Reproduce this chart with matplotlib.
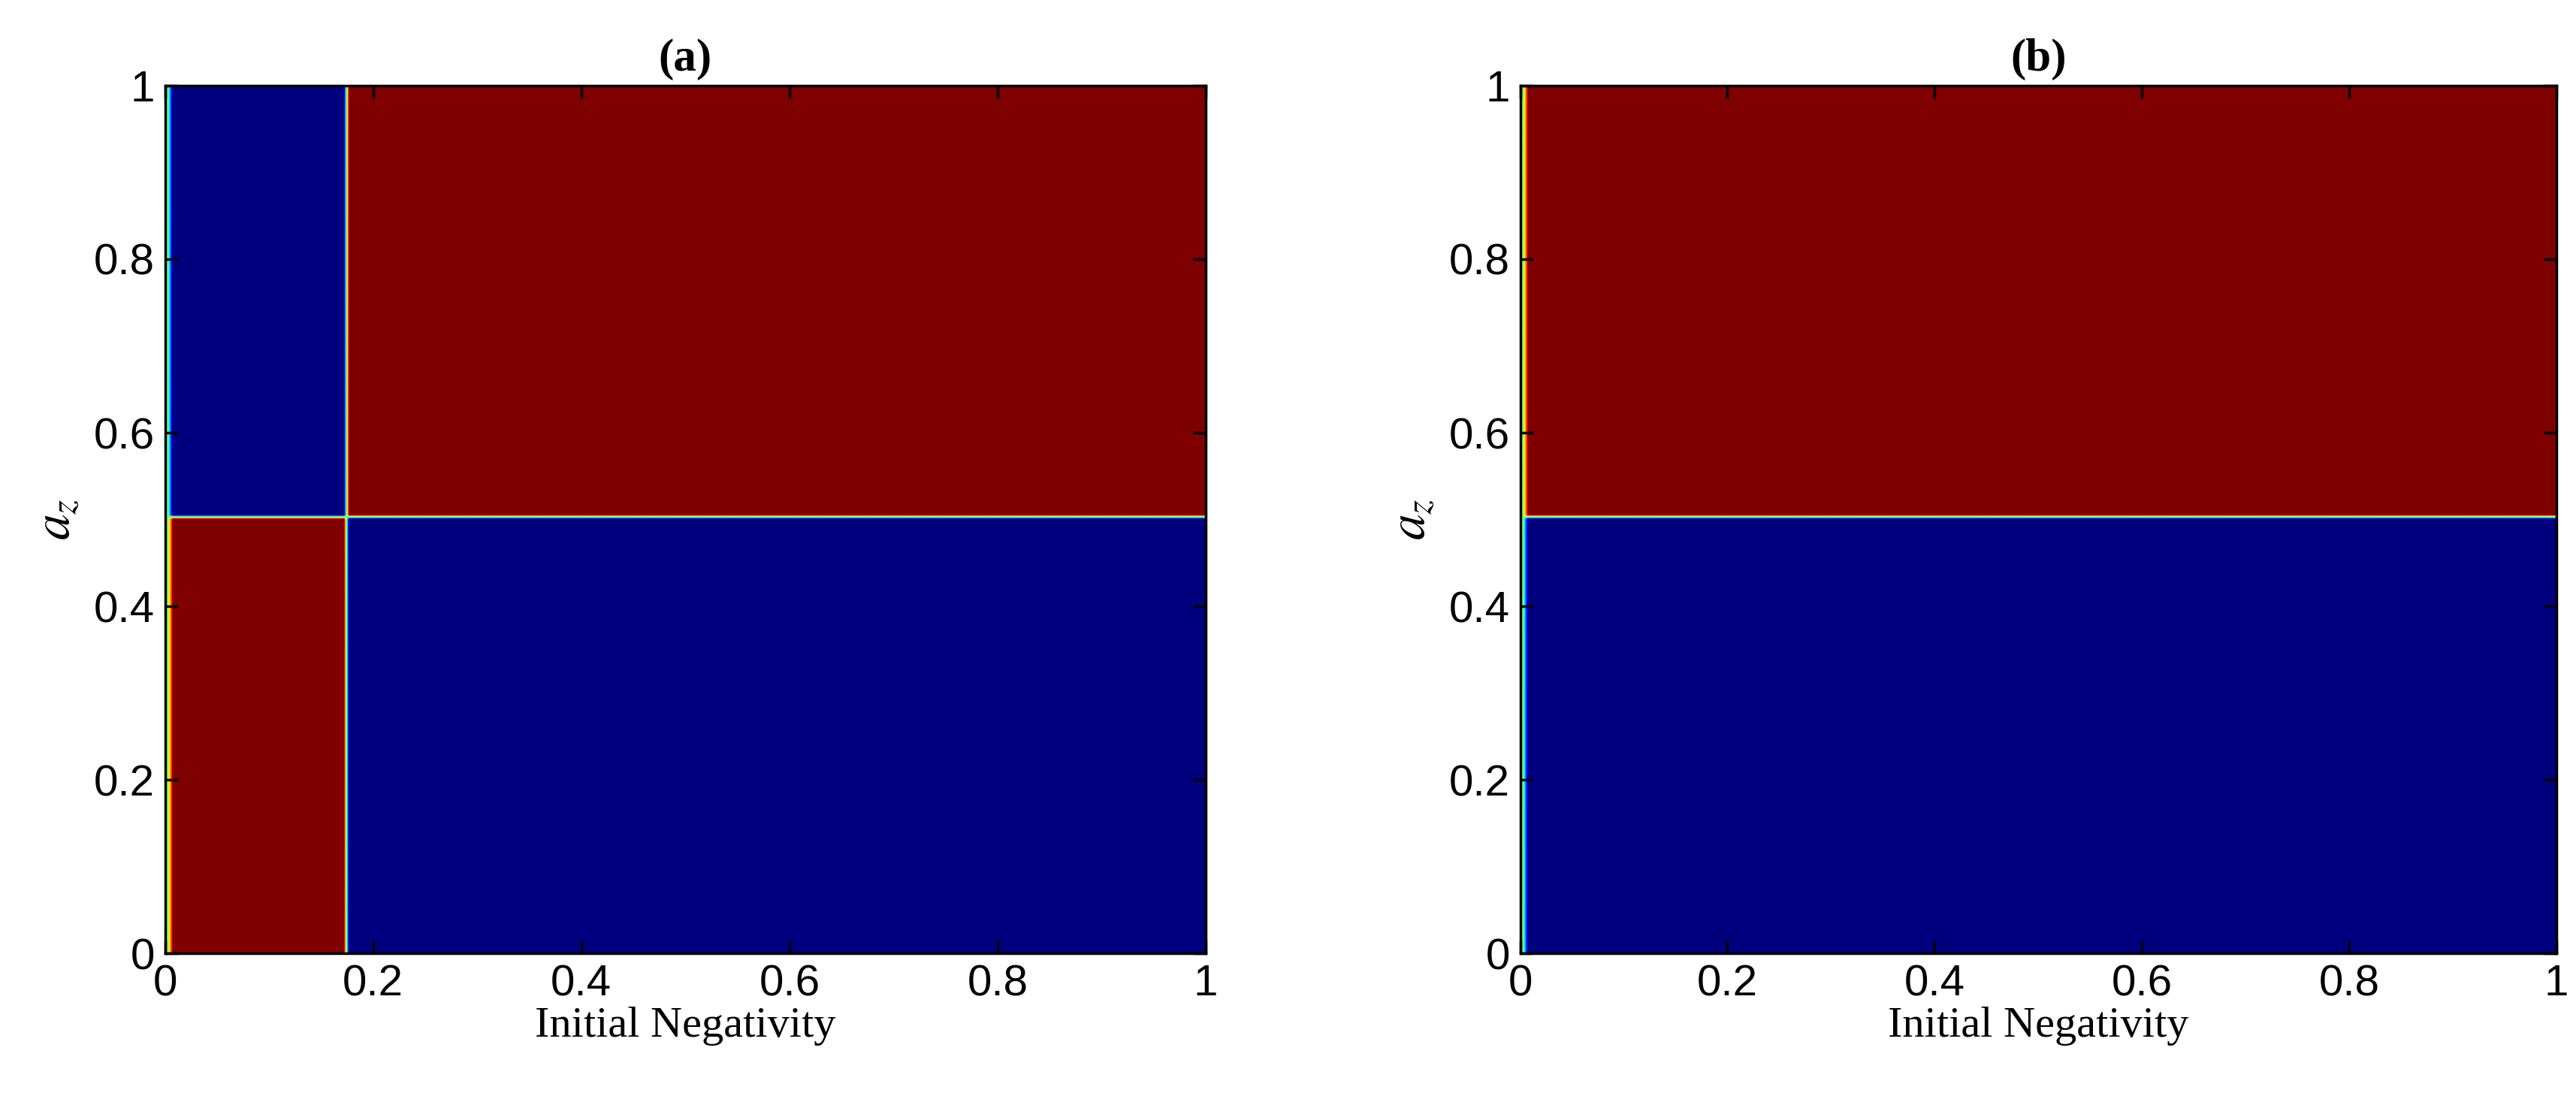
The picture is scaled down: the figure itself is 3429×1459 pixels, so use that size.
import numpy as np
import matplotlib.pyplot as plt
from matplotlib.ticker import FuncFormatter

plt.rcParams['mathtext.fontset'] = 'stix'

# grid of the parameter sweep
n_grid = 201
neg = np.linspace(0, 1, n_grid)
az = np.linspace(0, 1, n_grid)

# region boundaries
a_split_x = 0.175
split_y = 0.5
edge_value = 0.5        # first column (negativity = 0)

# region values: [below split_y, above split_y]
a_left_vals = [1.0, 0.0]
a_right_vals = [0.0, 1.0]
b_vals = [0.0, 1.0]


def build(split_x, left_vals, right_vals):
    Z = np.empty((n_grid, n_grid))
    for i, y in enumerate(az):
        k = 1 if y > split_y else 0
        for j, x in enumerate(neg):
            Z[i, j] = left_vals[k] if x < split_x else right_vals[k]
    Z[:, 0] = edge_value
    return Z


Za = build(a_split_x, a_left_vals, a_right_vals)
Zb = build(-1, b_vals, b_vals)

fig = plt.figure(figsize=(34.3, 14.59), dpi=100)
axes = [fig.add_axes([0.064, 0.13, 0.404, 0.792]),
        fig.add_axes([0.590, 0.13, 0.402, 0.792])]
ticks = [0, 0.2, 0.4, 0.6, 0.8, 1]
fmt = FuncFormatter(lambda v, p: '%g' % v)

for ax, Z, t in zip(axes, [Za, Zb], ['(a)', '(b)']):
    ax.imshow(Z, cmap='jet', vmin=0, vmax=1, origin='lower', extent=[0, 1, 0, 1],
              aspect='auto', interpolation='bilinear')
    ax.set_xlim(0, 1)
    ax.set_ylim(0, 1)
    ax.set_xticks(ticks)
    ax.set_yticks(ticks)
    ax.xaxis.set_major_formatter(fmt)
    ax.yaxis.set_major_formatter(fmt)
    ax.tick_params(direction='in', length=12, width=2.5, labelsize=42, pad=10,
                   top=True, right=True)
    for lab in ax.get_xticklabels() + ax.get_yticklabels():
        lab.set_family('Liberation Sans')
    for s in ax.spines.values():
        s.set_linewidth(2.5)
    ax.set_title(t, fontsize=44, fontweight='bold', family='Liberation Serif', pad=14)
    ax.set_xlabel('Initial Negativity', fontsize=42, family='Liberation Serif', labelpad=2)
    ax.set_ylabel('$a_z$', fontsize=50, labelpad=12)

fig.savefig('out.png', dpi=100)
